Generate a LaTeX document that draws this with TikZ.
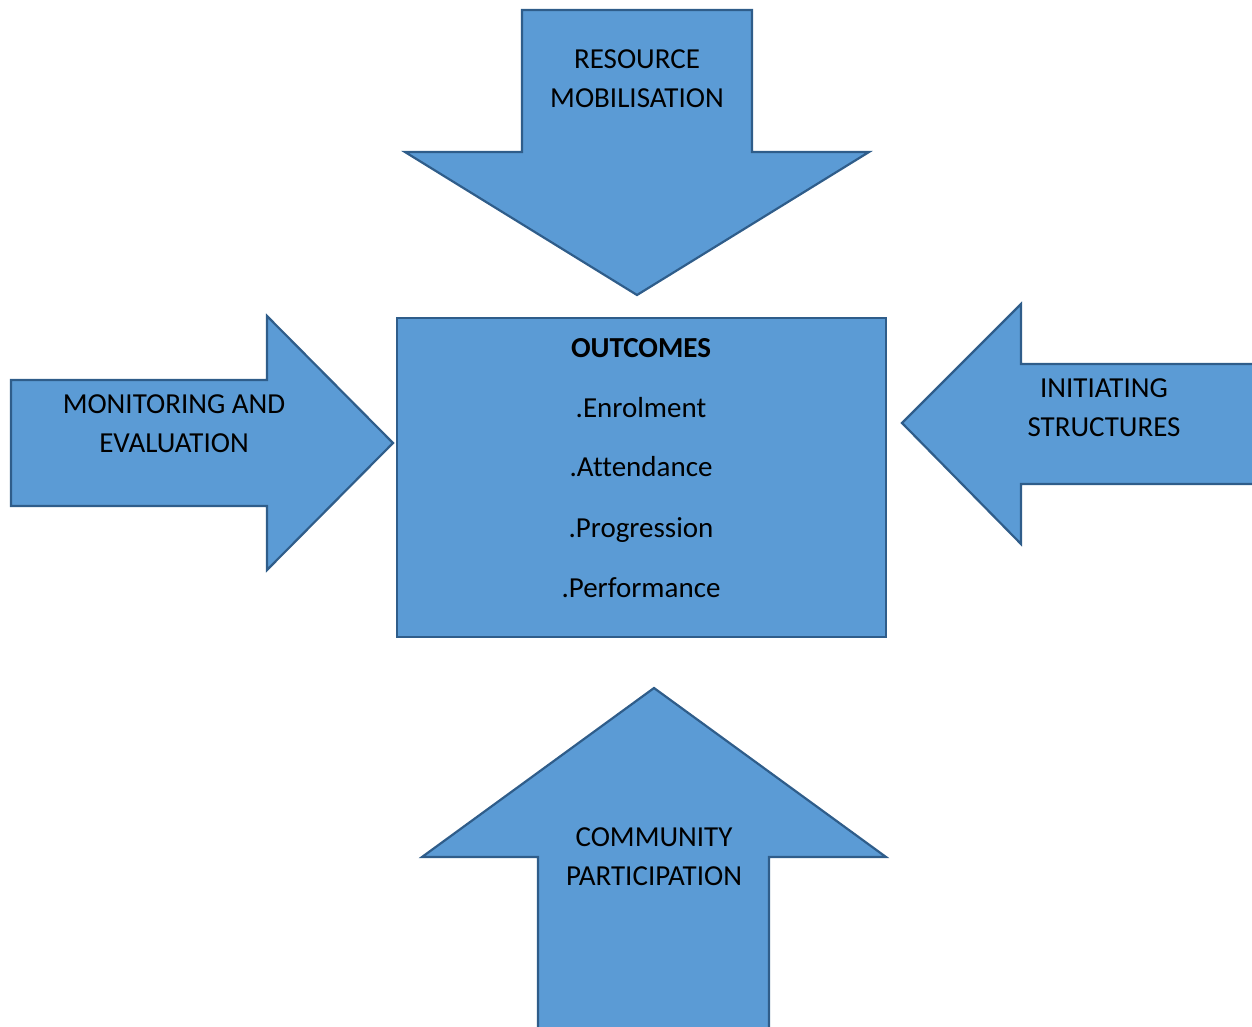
\documentclass[tikz,border=0pt]{standalone}
\usepackage{fontspec}
\setmainfont[Ligatures=NoCommon]{Carlito}
\definecolor{arrowfill}{HTML}{5B9BD5}
\definecolor{arrowline}{HTML}{2F5D8A}
\begin{document}
\begin{tikzpicture}[x=1pt,y=-1pt,
  blockshape/.style={fill=arrowfill,draw=arrowline,line width=2.2pt,line join=miter},
  arrowtext/.style={font=\fontsize{29}{39}\selectfont,align=center,anchor=base,inner sep=0pt},
  itemtext/.style={font=\fontsize{29}{39}\selectfont,anchor=base,inner sep=0pt}]
\useasboundingbox (0,0) rectangle (1252,1026);
\clip (0,0) rectangle (1252,1026);
% arrow from above: resource mobilisation
\draw[blockshape] (522,10) -- (752,10) -- (752,152) -- (869,152) -- (637,295)
  -- (405,152) -- (522,152) -- cycle;
% arrow from the left: monitoring and evaluation
\draw[blockshape] (11,380) -- (267,380) -- (267,316) -- (393,443) -- (267,570)
  -- (267,506) -- (11,506) -- cycle;
% arrow from the right: initiating structures
\draw[blockshape] (1262,364) -- (1021,364) -- (1021,304) -- (902,423) -- (1021,544)
  -- (1021,484) -- (1262,484) -- cycle;
% arrow from below: community participation
\draw[blockshape] (538,1036) -- (538,857) -- (422,857) -- (654,688) -- (886,857)
  -- (769,857) -- (769,1036) -- cycle;
% central outcomes box
\draw[blockshape] (397,318) rectangle (886,637);

% two-line captions: the base anchor sits on the second line
\node[arrowtext] (rm) at (637,107) {RESOURCE\\MOBILISATION};
\node[arrowtext] (me) at (174,452) {MONITORING AND\\EVALUATION};
\node[arrowtext] (is) at (1104,436) {INITIATING\\STRUCTURES};
\node[arrowtext] (cp) at (654,885) {COMMUNITY\\PARTICIPATION};

\node[itemtext,font=\fontsize{29}{39}\selectfont\bfseries] (oc) at (641,357) {OUTCOMES};
\node[itemtext] (en) at (641,417) {.Enrolment};
\node[itemtext] (at) at (641,476) {.Attendance};
\node[itemtext] (pg) at (641,537) {.Progression};
\node[itemtext] (pf) at (641,597) {.Performance};
\end{tikzpicture}
\end{document}
